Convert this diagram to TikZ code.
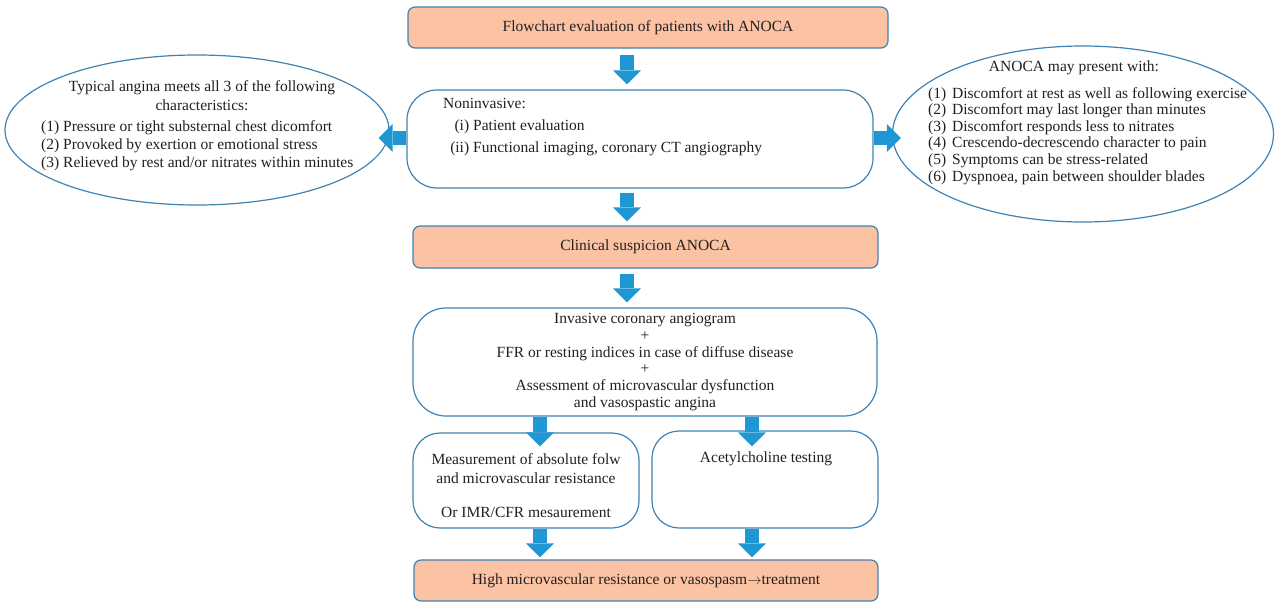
\documentclass[tikz,border=0pt]{standalone}
\usepackage{fontspec}
\setmainfont{Liberation Serif}
\usetikzlibrary{arrows.meta,shapes.geometric}
\definecolor{peach}{HTML}{FBC3A3}
\definecolor{bdr}{HTML}{3F83B4}
\definecolor{arr}{HTML}{1F97D4}
\definecolor{txt}{HTML}{231F20}
\newcommand\myfs{\fontsize{15.5}{17}\selectfont}
\begin{document}
\begin{tikzpicture}[x=1pt,y=-1pt,
  every node/.style={text=txt, font=\myfs},
  box/.style={draw=bdr, line width=1.2pt, rectangle, inner sep=0pt, fill=white},
  hdr/.style={box, fill=peach, rounded corners=7pt},
  oval/.style={draw=bdr, line width=1.2pt, ellipse, inner sep=0pt, fill=white},
  barrow/.style={draw=arr, line width=14pt, -{Triangle[width=28pt,length=14pt,line width=0pt]}},
  txtnode/.style={inner sep=0pt}]
\useasboundingbox (0,0) rectangle (1276,603);

% ellipses
\node[oval, minimum width=384pt, minimum height=150pt] (lell) at (197,130) {};
\node[oval, minimum width=381pt, minimum height=176pt] (rell) at (1083,134) {};

% boxes
\node[hdr, minimum width=480pt, minimum height=41pt] (top) at (648,27.5) {Flowchart evaluation of patients with ANOCA};
\node[box, rounded corners=30pt, minimum width=466pt, minimum height=98pt] (non) at (640,139) {};
\node[hdr, minimum width=465pt, minimum height=42pt] (clin) at (645.5,247) {Clinical suspicion ANOCA};
\node[box, rounded corners=33pt, minimum width=464pt, minimum height=108pt, align=center,
  font=\fontsize{15.5}{16.8}\selectfont] (inv) at (645,362)
  {Invasive coronary angiogram\\+\\FFR or resting indices in case of diffuse disease\\+\\Assessment of microvascular dysfunction\\and vasospastic angina};
\node[box, rounded corners=27pt, minimum width=226pt, minimum height=95pt] (lbox) at (526,480.5) {};
\node[box, rounded corners=27pt, minimum width=226pt, minimum height=97pt] (rbox) at (765,479.5) {};
\node[hdr, minimum width=464pt, minimum height=41pt] (bot) at (646,580.5) {High microvascular resistance or vasospasm\(\rightarrow\)treatment};

% texts
\node[txtnode, anchor=north west, align=left, font=\fontsize{15.5}{17}\selectfont] (nontext) at (443,98)
  {Noninvasive:\\[5pt]
   \hspace*{7pt}\makebox[19pt][r]{(i)}\hspace{4pt}Patient evaluation\\[5pt]
   \hspace*{7pt}\makebox[19pt][r]{(ii)}\hspace{4pt}Functional imaging, coronary CT angiography};
\node[txtnode, align=center, font=\fontsize{15.5}{19}\selectfont] (ltitle) at (202,95.5)
  {Typical angina meets all 3 of the following\\characteristics:};
\node[txtnode, anchor=north west, align=left, font=\fontsize{15.5}{18}\selectfont] (llist) at (41,120)
  {\makebox[18pt][l]{(1)}\hspace{4pt}Pressure or tight substernal chest dicomfort\\
   \makebox[18pt][l]{(2)}\hspace{4pt}Provoked by exertion or emotional stress\\
   \makebox[18pt][l]{(3)}\hspace{4pt}Relieved by rest and/or nitrates within minutes};
\node[txtnode] (rtitle) at (1074,68) {ANOCA may present with:};
\node[txtnode, anchor=north west, align=left, font=\fontsize{15.5}{16.6}\selectfont] (rlist) at (928,87)
  {\makebox[18pt][l]{(1)}\hspace{6pt}Discomfort at rest as well as following exercise\\
   \makebox[18pt][l]{(2)}\hspace{6pt}Discomfort may last longer than minutes\\
   \makebox[18pt][l]{(3)}\hspace{6pt}Discomfort responds less to nitrates\\
   \makebox[18pt][l]{(4)}\hspace{6pt}Crescendo-decrescendo character to pain\\
   \makebox[18pt][l]{(5)}\hspace{6pt}Symptoms can be stress-related\\
   \makebox[18pt][l]{(6)}\hspace{6pt}Dyspnoea, pain between shoulder blades};
\node[txtnode, align=center, font=\fontsize{15.5}{19}\selectfont] (ltext) at (526,485.5)
  {Measurement of absolute folw\\and microvascular resistance\\[15pt]Or IMR/CFR mesaurement};
\node[txtnode] (rtext) at (766,459) {Acetylcholine testing};

% helper coordinates
\coordinate (col) at (627,0);
\coordinate (lcol) at (540,0);
\coordinate (rcol) at (752,0);
\coordinate (srow) at (0,138);

% arrows
\draw[barrow, shorten <=6pt, shorten >=5pt] (top.south -| col) -- (non.north -| col);
\draw[barrow, shorten <=4pt, shorten >=4pt] (non.south -| col) -- (clin.north -| col);
\draw[barrow, shorten <=5pt, shorten >=5pt] (clin.south -| col) -- (inv.north -| col);
\draw[barrow, shorten >=-14pt] (inv.south -| lcol) -- (lbox.north -| lcol);
\draw[barrow, shorten >=-16pt] (inv.south -| rcol) -- (rbox.north -| rcol);
\draw[barrow, shorten >=2pt] (lbox.south -| lcol) -- (bot.north -| lcol);
\draw[barrow, shorten >=2pt] (rbox.south -| rcol) -- (bot.north -| rcol);
\draw[barrow, shorten >=-11pt] (non.west |- srow) -- (lell.east |- srow);
\draw[barrow, shorten >=-9pt] (non.east |- srow) -- (rell.west |- srow);
\end{tikzpicture}
\end{document}
